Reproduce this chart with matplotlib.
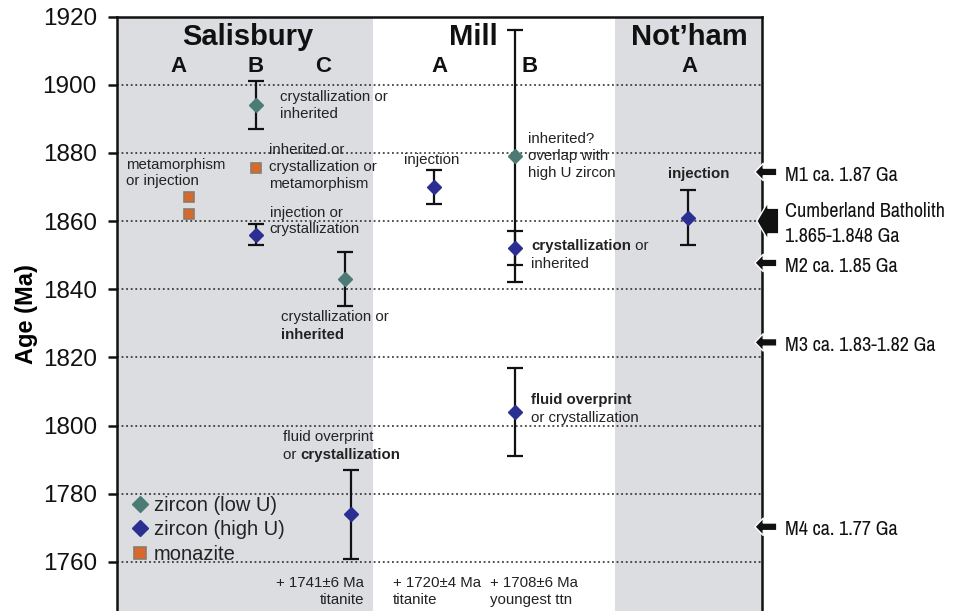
import os
import matplotlib
matplotlib.use("Agg")
import matplotlib.pyplot as plt
from matplotlib import font_manager

# 年代データ (Ma)
low_u_x = [2.15, 3.53, 6.17]
low_u_age = [1894, 1843, 1879]
low_u_err = [7, 8, 37]

high_u_x = [2.15, 3.63, 4.91, 6.17, 6.17, 8.85]
high_u_age = [1856, 1774, 1870, 1852, 1804, 1861]
high_u_err = [3, 13, 5, 5, 13, 8]

monazite_x = [1.12, 1.12, 2.15]
monazite_age = [1867, 1862, 1875.5]

# 右側の変成イベント
event_age = [1874.4, 1860.0, 1847.7, 1824.4, 1770.3]
event_label = ["M1 ca. 1.87 Ga", "Cumberland Batholith\n1.865-1.848 Ga",
               "M2 ca. 1.85 Ga", "M3 ca. 1.83-1.82 Ga", "M4 ca. 1.77 Ga"]
event_big = [False, True, False, False, False]

y_ticks = [1760, 1780, 1800, 1820, 1840, 1860, 1880, 1900, 1920]

plt.rcParams['font.family'] = ['Liberation Sans', 'DejaVu Sans']

# 細いフォントがあれば右側ラベルに使う
narrow_file = None
for f in font_manager.fontManager.ttflist:
    key = (f.name + ' ' + os.path.basename(f.fname)).lower()
    if ('narrow' in key or 'roboto condensed' in key or 'robotocondensed' in key) \
            and f.style == 'normal' and f.weight in (400, 'normal', 'regular') \
            and 'bold' not in key and 'italic' not in key:
        narrow_file = f.fname
        break
if narrow_file:
    event_font = dict(fontproperties=font_manager.FontProperties(fname=narrow_file, size=14.5))
else:
    event_font = dict(fontsize=11.8)

fig = plt.figure(figsize=(9.56, 6.11), dpi=100)
ax = fig.add_axes([117 / 956, 0, 645 / 956, 594.5 / 611])

# 背景の帯
ax.axvspan(0, 3.97, color='#dcdde0', lw=0, zorder=0)
ax.axvspan(7.72, 10, color='#dcdde0', lw=0, zorder=0)

for y in y_ticks[:-1]:
    ax.axhline(y, color='#222222', lw=1.1, ls=(0, (1.2, 1.8)), zorder=1)

ek = dict(fmt='none', ecolor='#111111', elinewidth=1.6, capsize=5.5, capthick=1.6, zorder=3)
ax.errorbar(low_u_x, low_u_age, yerr=low_u_err, **ek)
ax.errorbar(high_u_x, high_u_age, yerr=high_u_err, **ek)

ax.plot(low_u_x, low_u_age, 'D', ms=7, color='#4b7b74', mec='#4b7b74', zorder=4,
        label='zircon (low U)')
ax.plot(high_u_x, high_u_age, 'D', ms=7, color='#2b2f92', mec='#2b2f92', zorder=4,
        label='zircon (high U)')
ax.plot(monazite_x, monazite_age, 's', ms=7.5, color='#d8692b', mec='#8c7a68', mew=1.2,
        zorder=4, label='monazite')

ax.set_xlim(0, 10)
ax.set_ylim(1745.6, 1920)
ax.set_yticks(y_ticks)
ax.set_xticks([])
ax.tick_params(axis='y', labelsize=17.5, length=6.5, width=1.8, pad=8, colors='#111111')
for s in ['left', 'right', 'top']:
    ax.spines[s].set_linewidth(1.8)
    ax.spines[s].set_color('#111111')
ax.spines['bottom'].set_visible(False)
ax.set_ylabel('Age (Ma)', fontsize=17, fontweight='bold', labelpad=3)

# 見出し
for x, t in [(2.03, 'Salisbury'), (5.53, 'Mill'), (8.87, "Not\u2019ham")]:
    ax.text(x, 1914, t, fontsize=21, fontweight='bold', ha='center', va='center', color='#111111')
for x, t in [(0.95, 'A'), (2.15, 'B'), (3.19, 'C'), (5.0, 'A'), (6.4, 'B'), (8.88, 'A')]:
    ax.text(x, 1905.2, t, fontsize=16, fontweight='bold', ha='center', va='center', color='#111111')

fs = 10.8
tc = '#222222'


def note(x, y, s, **kw):
    return ax.text(x, y, s, fontsize=fs, color=tc, va='center', linespacing=1.25, **kw)


def note_pair(x, y, s1, s2, w1, w2):
    # 太字と標準を一行に並べる
    t = ax.text(x, y, s1, fontsize=fs, color=tc, va='center', fontweight=w1)
    ax.annotate(s2, xy=(1, 0), xycoords=t, va='bottom', fontsize=fs, color=tc, fontweight=w2)


note(2.53, 1894, 'crystallization or\ninherited')
note(0.14, 1874.1, 'metamorphism\nor injection')
note(2.36, 1875.9, 'inherited or\ncrystallization or\nmetamorphism')
note(2.37, 1860, 'injection or\ncrystallization')
note(2.54, 1831.9, 'crystallization or')
ax.text(2.54, 1826.6, 'inherited', fontsize=fs, color=tc, va='center', fontweight='bold')
note(2.57, 1796.6, 'fluid overprint')
note_pair(2.57, 1791.4, 'or ', 'crystallization', 'normal', 'bold')
note(3.83, 1751.3, '+ 1741\u00b16 Ma\ntitanite', ha='right', multialignment='right')
note(4.88, 1877.9, 'injection', ha='center')
note(6.37, 1879.1, 'inherited?\noverlap with\nhigh U zircon')
note_pair(6.42, 1852.7, 'crystallization', ' or', 'bold', 'normal')
note(6.42, 1847.4, 'inherited')
ax.text(6.42, 1807.5, 'fluid overprint', fontsize=fs, color=tc, va='center', fontweight='bold')
note(6.42, 1802.2, 'or crystallization')
ax.text(9.02, 1873.8, 'injection', fontsize=fs, color=tc, va='center', ha='center', fontweight='bold')
note(4.28, 1751.3, '+ 1720\u00b14 Ma\ntitanite')
note(5.78, 1751.3, '+ 1708\u00b16 Ma\nyoungest ttn')

# 右側の矢印とラベル
for age, lab, big in zip(event_age, event_label, event_big):
    if big:
        style = 'simple,head_length=0.8,head_width=2.7,tail_width=1.85'
        x0, x1 = 0.992, 1.026
    else:
        style = 'simple,head_length=0.6,head_width=1.25,tail_width=0.55'
        x0, x1 = 0.989, 1.023
    ax.annotate('', xy=(x0, age), xycoords=('axes fraction', 'data'),
                xytext=(x1, age), textcoords=('axes fraction', 'data'),
                arrowprops=dict(arrowstyle=style, fc='#111111', ec='white', lw=1.0,
                                shrinkA=0, shrinkB=0, mutation_scale=10),
                annotation_clip=False, zorder=5)
    ax.text(1.036, age - 0.9, lab, transform=ax.get_yaxis_transform(),
            va='center', ha='left', color='#111111', linespacing=1.35, clip_on=False,
            **event_font)

leg = ax.legend(loc='lower left', bbox_to_anchor=(0.001, 0.056), frameon=False,
                fontsize=14.5, handlelength=0.8, handletextpad=0.3, labelspacing=0.27,
                borderaxespad=0.3, numpoints=1, markerscale=1.1)
for t in leg.get_texts():
    t.set_color('#222222')

fig.savefig('out.png', dpi=100)
